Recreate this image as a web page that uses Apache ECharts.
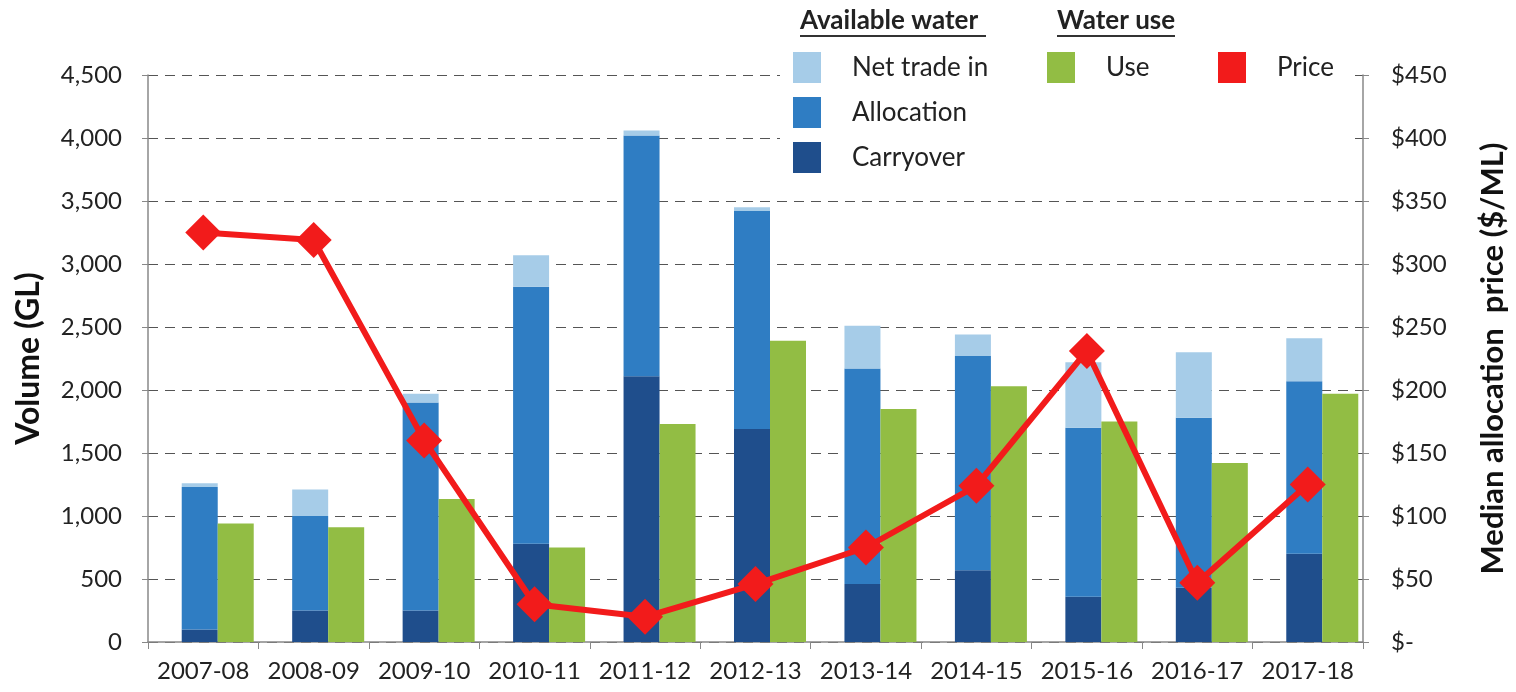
<!DOCTYPE html>
<html><head><meta charset="utf-8">
<script src="https://cdn.jsdelivr.net/npm/echarts@6/dist/echarts.min.js"></script>
<style>html,body{margin:0;padding:0;background:#fff;}#c{width:1516px;height:692px;}</style>
</head><body><div id="c"></div>
<script>
const categories = ['2007-08','2008-09','2009-10','2010-11','2011-12','2012-13','2013-14','2014-15','2015-16','2016-17','2017-18'];
const carryover  = [100, 250, 250, 780, 2110, 1690, 460, 570, 360, 430, 700];
const allocation = [1130, 750, 1650, 2040, 1910, 1730, 1710, 1700, 1340, 1350, 1370];
const netTradeIn = [30, 210, 70, 250, 40, 30, 340, 170, 520, 520, 340];
const use        = [940, 910, 1135, 750, 1730, 2390, 1850, 2030, 1750, 1420, 1970];
const price      = [325, 319, 160, 30, 20, 46, 75, 124, 231, 47, 125];
const leftTicks  = {min: 0, max: 4500, interval: 500};
const rightTicks = {min: 0, max: 450, interval: 50};

const FONT = 'Lato';
const chart = echarts.init(document.getElementById('c'));
const tickColor = '#222';
const pad = categories.map(() => null);
const legendText = {fontSize: 26, color: '#222', padding: [0, 0, 0, 26], fontFamily: FONT};
chart.setOption({
  animation: false,
  textStyle: {fontFamily: FONT},
  grid: {left: 148, right: 153, top: 75, bottom: 50},
  xAxis: {
    type: 'category', data: categories,
    axisLine: {lineStyle: {color: '#888', width: 1.5}},
    axisTick: {show: true, length: 7, interval: 0, lineStyle: {color: '#888'}},
    axisLabel: {color: tickColor, fontSize: 24, margin: 17, interval: 0, hideOverlap: false, fontFamily: FONT}
  },
  yAxis: [{
    type: 'value', min: leftTicks.min, max: leftTicks.max, interval: leftTicks.interval,
    name: 'Volume (GL)', nameLocation: 'middle', nameGap: 103,
    nameTextStyle: {fontSize: 32, fontWeight: 'bold', color: '#111', fontFamily: FONT},
    axisLine: {show: true, lineStyle: {color: '#888', width: 1.5}},
    axisTick: {show: true, length: 6, lineStyle: {color: '#888'}},
    axisLabel: {color: tickColor, fontSize: 24, margin: 26, fontFamily: FONT,
      formatter: v => v.toLocaleString('en-US')},
    splitLine: {show: true, lineStyle: {color: '#555', type: [10, 7], width: 1}}
  }, {
    type: 'value', min: rightTicks.min, max: rightTicks.max, interval: rightTicks.interval,
    name: 'Median allocation  price ($/ML)', nameLocation: 'middle', nameGap: 114,
    nameTextStyle: {fontSize: 31, fontWeight: 'bold', color: '#111', fontFamily: FONT},
    axisLine: {show: true, lineStyle: {color: '#888', width: 1.5}},
    axisTick: {show: true, length: 6, lineStyle: {color: '#888'}},
    axisLabel: {color: tickColor, fontSize: 24, margin: 28, fontFamily: FONT,
      formatter: v => v === 0 ? '$-' : '$' + v},
    splitLine: {show: false}
  }],
  legend: [{
    orient: 'vertical', left: 788, top: 47, itemWidth: 28, itemHeight: 31, itemGap: 14,
    icon: 'rect', data: ['Net trade in', 'Allocation', 'Carryover'],
    textStyle: legendText, selectedMode: false
  }, {
    orient: 'horizontal', left: 1042, top: 47, itemWidth: 28, itemHeight: 31,
    icon: 'rect', data: ['Use'], textStyle: legendText, selectedMode: false
  }, {
    orient: 'horizontal', left: 1213, top: 47, itemWidth: 28, itemHeight: 31,
    icon: 'rect', data: ['Price'], textStyle: legendText, selectedMode: false
  }],
  graphic: [
    {type: 'rect', left: 780, top: 0, z: 1, shape: {width: 572, height: 182}, style: {fill: '#fff'}},
    {type: 'text', left: 800, top: 8, z: 5, style: {text: 'Available water', font: 'bold 26px ' + FONT, fill: '#222'}},
    {type: 'rect', left: 800, top: 35, z: 5, shape: {width: 186, height: 2}, style: {fill: '#333'}},
    {type: 'text', left: 1057, top: 8, z: 5, style: {text: 'Water use', font: 'bold 26px ' + FONT, fill: '#222'}},
    {type: 'rect', left: 1057, top: 35, z: 5, shape: {width: 118, height: 2}, style: {fill: '#333'}}
  ],
  series: [
    {name: 'pad', type: 'bar', data: pad, barWidth: 29, barGap: '0%', silent: true},
    {name: 'Carryover', type: 'bar', stack: 'avail', data: carryover, barWidth: 36, barGap: '0%',
      itemStyle: {color: '#1f4e8c'}},
    {name: 'Allocation', type: 'bar', stack: 'avail', data: allocation, barWidth: 36, barGap: '0%',
      itemStyle: {color: '#2f7dc3'}},
    {name: 'Net trade in', type: 'bar', stack: 'avail', data: netTradeIn, barWidth: 36, barGap: '0%',
      itemStyle: {color: '#a6cce8'}},
    {name: 'Use', type: 'bar', data: use, barWidth: 36, barGap: '0%',
      itemStyle: {color: '#92bd44'}},
    {name: 'Price', type: 'line', yAxisIndex: 1, data: price, z: 5,
      symbol: 'diamond', symbolSize: 36,
      lineStyle: {color: '#f21b1b', width: 6},
      itemStyle: {color: '#f21b1b'}}
  ]
});
</script></body></html>
